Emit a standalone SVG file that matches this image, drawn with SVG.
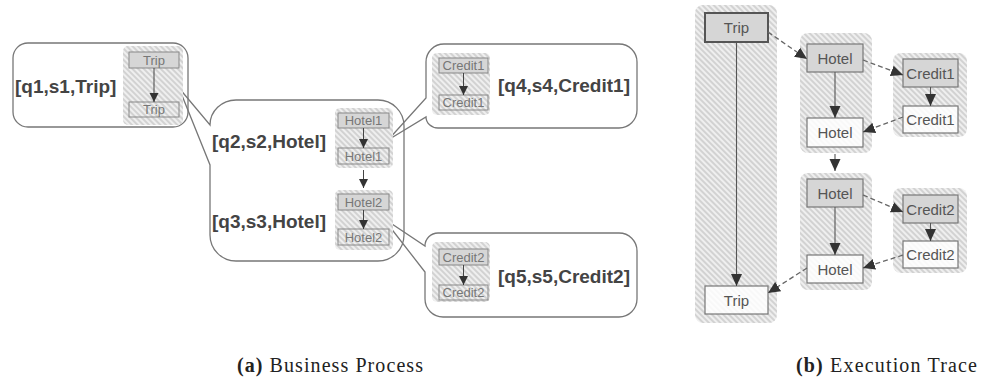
<svg xmlns="http://www.w3.org/2000/svg" width="994" height="381" viewBox="0 0 994 381">
  <defs>
    <pattern id="hatch" width="4" height="4" patternUnits="userSpaceOnUse" patternTransform="rotate(-45)">
      <rect width="4" height="4" fill="#efefef"/>
      <line x1="1" y1="0" x2="1" y2="4" stroke="#c6c6c6" stroke-width="1.4"/>
    </pattern>
    <marker id="headA" markerUnits="userSpaceOnUse" markerWidth="10" markerHeight="10" refX="9" refY="5" orient="auto">
      <path d="M0,0.5 L9,5 L0,9.5 Z" fill="#333"/>
    </marker>
    <marker id="headB" markerUnits="userSpaceOnUse" markerWidth="13" markerHeight="12" refX="12" refY="6" orient="auto">
      <path d="M0,0.5 L12,6 L0,11.5 Z" fill="#333"/>
    </marker>
  </defs>
  <style>
    .bubble { fill: none; stroke: #777; stroke-width: 1.3; }
    .region { fill: url(#hatch); }
    .nodeA { stroke: #888; stroke-width: 1; }
    .nodeB { stroke: #777; stroke-width: 1.2; }
    .filled { fill: #d6d6d6; }
    .open { fill: none; }
    .openB { fill: #ffffff; fill-opacity: 0.85; }
    .lblA { font-family: "Liberation Sans", Arial, sans-serif; font-size: 13px; fill: #777; text-anchor: middle; }
    .lblB { font-family: "Liberation Sans", Arial, sans-serif; font-size: 15px; fill: #555; text-anchor: middle; }
    .tuple { font-family: "Liberation Sans", Arial, sans-serif; font-size: 19px; font-weight: bold; fill: #444; }
    .caption { font-family: "Liberation Serif", "Times New Roman", serif; font-size: 20px; fill: #222; }
    .solidA { stroke: #444; stroke-width: 1; fill: none; marker-end: url(#headA); }
    .solidB { stroke: #555; stroke-width: 1.1; fill: none; marker-end: url(#headB); }
    .dashB { stroke: #666; stroke-width: 1.3; fill: none; stroke-dasharray: 5 3; marker-end: url(#headB); }
  </style>

  <!-- (a) callout bubbles -->
  <g id="bubbles">
    <rect id="bubble-q1" class="bubble" x="13" y="43" width="175" height="84" rx="15"/>
    <path id="bubble-q2q3" class="bubble" d="M179,88 L210,125 A26,25 0 0 1 236,100 L378,100 A26,26 0 0 1 404,126 L404,235 A26,26 0 0 1 378,261 L236,261 A26,26 0 0 1 210,235 L210,165 Z"/>
    <path id="bubble-q4" class="bubble" d="M388,140 L426,98 L426,62 A18,18 0 0 1 444,44 L619,44 A18,18 0 0 1 637,62 L637,110 A18,18 0 0 1 619,128 L438,128 A12,11 0 0 1 426,117 Z"/>
    <path id="bubble-q5" class="bubble" d="M383,218 L425,246 A13,13 0 0 1 438,233 L619,233 A18,18 0 0 1 637,251 L637,299 A18,18 0 0 1 619,317 L443,317 A18,18 0 0 1 425,299 L425,272 Z"/>
  </g>

  <!-- (a) tuple labels -->
  <g id="tuples">
    <text class="tuple" x="15" y="93">[q1,s1,Trip]</text>
    <text class="tuple" x="212" y="148">[q2,s2,Hotel]</text>
    <text class="tuple" x="212" y="228">[q3,s3,Hotel]</text>
    <text class="tuple" x="498" y="92">[q4,s4,Credit1]</text>
    <text class="tuple" x="498" y="283">[q5,s5,Credit2]</text>
  </g>

  <!-- (a) activity pairs -->
  <g id="a-trip">
    <rect class="region" x="123" y="46" width="60" height="79" rx="5"/>
    <rect class="nodeA filled" x="129" y="52" width="50" height="16"/>
    <text class="lblA" x="154" y="64.5">Trip</text>
    <rect class="nodeA open" x="129" y="102" width="50" height="15"/>
    <text class="lblA" x="154" y="114">Trip</text>
  </g>
  <g id="a-hotel1">
    <rect class="region" x="335" y="108" width="58" height="60" rx="5"/>
    <rect class="nodeA filled" x="338" y="113" width="51" height="15"/>
    <text class="lblA" x="363.5" y="125">Hotel1</text>
    <rect class="nodeA open" x="338" y="148" width="51" height="16"/>
    <text class="lblA" x="363.5" y="160.5">Hotel1</text>
  </g>
  <g id="a-hotel2">
    <rect class="region" x="335" y="190" width="58" height="60" rx="5"/>
    <rect class="nodeA filled" x="338" y="194" width="51" height="16"/>
    <text class="lblA" x="363.5" y="206.5">Hotel2</text>
    <rect class="nodeA open" x="338" y="229" width="51" height="16"/>
    <text class="lblA" x="363.5" y="241.5">Hotel2</text>
  </g>
  <g id="a-credit1">
    <rect class="region" x="432" y="53" width="58" height="62" rx="5"/>
    <rect class="nodeA filled" x="439" y="58" width="49" height="15"/>
    <text class="lblA" x="463.5" y="70">Credit1</text>
    <rect class="nodeA open" x="439" y="95" width="49" height="15"/>
    <text class="lblA" x="463.5" y="107">Credit1</text>
  </g>
  <g id="a-credit2">
    <rect class="region" x="432" y="242" width="58" height="60" rx="5"/>
    <rect class="nodeA filled" x="439" y="249" width="49" height="16"/>
    <text class="lblA" x="463.5" y="261.5">Credit2</text>
    <rect class="nodeA open" x="439" y="285" width="49" height="15"/>
    <text class="lblA" x="463.5" y="297">Credit2</text>
  </g>

  <!-- (b) execution trace nodes -->
  <g id="b-trip">
    <rect class="region" x="695" y="5" width="82" height="318" rx="8"/>
    <rect class="filled" x="705" y="13" width="63" height="29" stroke="#555" stroke-width="2"/>
    <text class="lblB" x="736.5" y="33">Trip</text>
    <rect class="nodeB openB" x="705" y="286" width="63" height="28"/>
    <text class="lblB" x="736.5" y="305.5">Trip</text>
  </g>
  <g id="b-hotel1">
    <rect class="region" x="800" y="33" width="72" height="120" rx="8"/>
    <rect class="nodeB filled" x="807" y="44" width="56" height="28"/>
    <text class="lblB" x="835" y="63.5">Hotel</text>
    <rect class="nodeB openB" x="807" y="118" width="56" height="29"/>
    <text class="lblB" x="835" y="138">Hotel</text>
  </g>
  <g id="b-hotel2">
    <rect class="region" x="800" y="173" width="72" height="117" rx="8"/>
    <rect class="nodeB filled" x="807" y="179" width="56" height="28"/>
    <text class="lblB" x="835" y="198.5">Hotel</text>
    <rect class="nodeB openB" x="807" y="255" width="56" height="28"/>
    <text class="lblB" x="835" y="274.5">Hotel</text>
  </g>
  <g id="b-credit1">
    <rect class="region" x="893" y="53" width="74" height="84" rx="8"/>
    <rect class="nodeB filled" x="903" y="59" width="55" height="28"/>
    <text class="lblB" x="930.5" y="78.5">Credit1</text>
    <rect class="nodeB openB" x="903" y="106" width="55" height="27"/>
    <text class="lblB" x="930.5" y="125">Credit1</text>
  </g>
  <g id="b-credit2">
    <rect class="region" x="893" y="188" width="74" height="85" rx="8"/>
    <rect class="nodeB filled" x="903" y="195" width="55" height="28"/>
    <text class="lblB" x="930.5" y="214.5">Credit2</text>
    <rect class="nodeB openB" x="903" y="241" width="55" height="27"/>
    <text class="lblB" x="930.5" y="260">Credit2</text>
  </g>

  <!-- connectors -->
  <g id="connectors">
    <line class="solidA" x1="154" y1="68" x2="154" y2="102"/>
    <line class="solidA" x1="363.5" y1="128" x2="363.5" y2="148"/>
    <line class="solidA" x1="363.5" y1="170" x2="363.5" y2="188"/>
    <line class="solidA" x1="363.5" y1="210" x2="363.5" y2="229"/>
    <line class="solidA" x1="463.5" y1="73" x2="463.5" y2="95"/>
    <line class="solidA" x1="463.5" y1="265" x2="463.5" y2="285"/>

    <line class="solidB" x1="736.5" y1="42" x2="736.5" y2="286"/>
    <line class="solidB" x1="835" y1="72" x2="835" y2="118"/>
    <line class="solidB" x1="835" y1="154" x2="835" y2="171"/>
    <line class="solidB" x1="835" y1="207" x2="835" y2="255"/>
    <line class="solidB" x1="930.5" y1="87" x2="930.5" y2="106"/>
    <line class="solidB" x1="930.5" y1="223" x2="930.5" y2="241"/>

    <line class="dashB" x1="768" y1="32" x2="807" y2="59"/>
    <line class="dashB" x1="863" y1="60" x2="903" y2="75"/>
    <line class="dashB" x1="903" y1="117" x2="863" y2="132"/>
    <line class="dashB" x1="863" y1="195" x2="903" y2="212"/>
    <line class="dashB" x1="903" y1="255" x2="863" y2="268"/>
    <line class="dashB" x1="807" y1="268" x2="768" y2="293"/>
  </g>

  <!-- captions -->
  <g id="captions">
    <text class="caption" x="237" y="372" textLength="186" lengthAdjust="spacing"><tspan font-weight="bold">(a)</tspan> Business Process</text>
    <text class="caption" x="796" y="372" textLength="181" lengthAdjust="spacing"><tspan font-weight="bold">(b)</tspan> Execution Trace</text>
  </g>
</svg>
